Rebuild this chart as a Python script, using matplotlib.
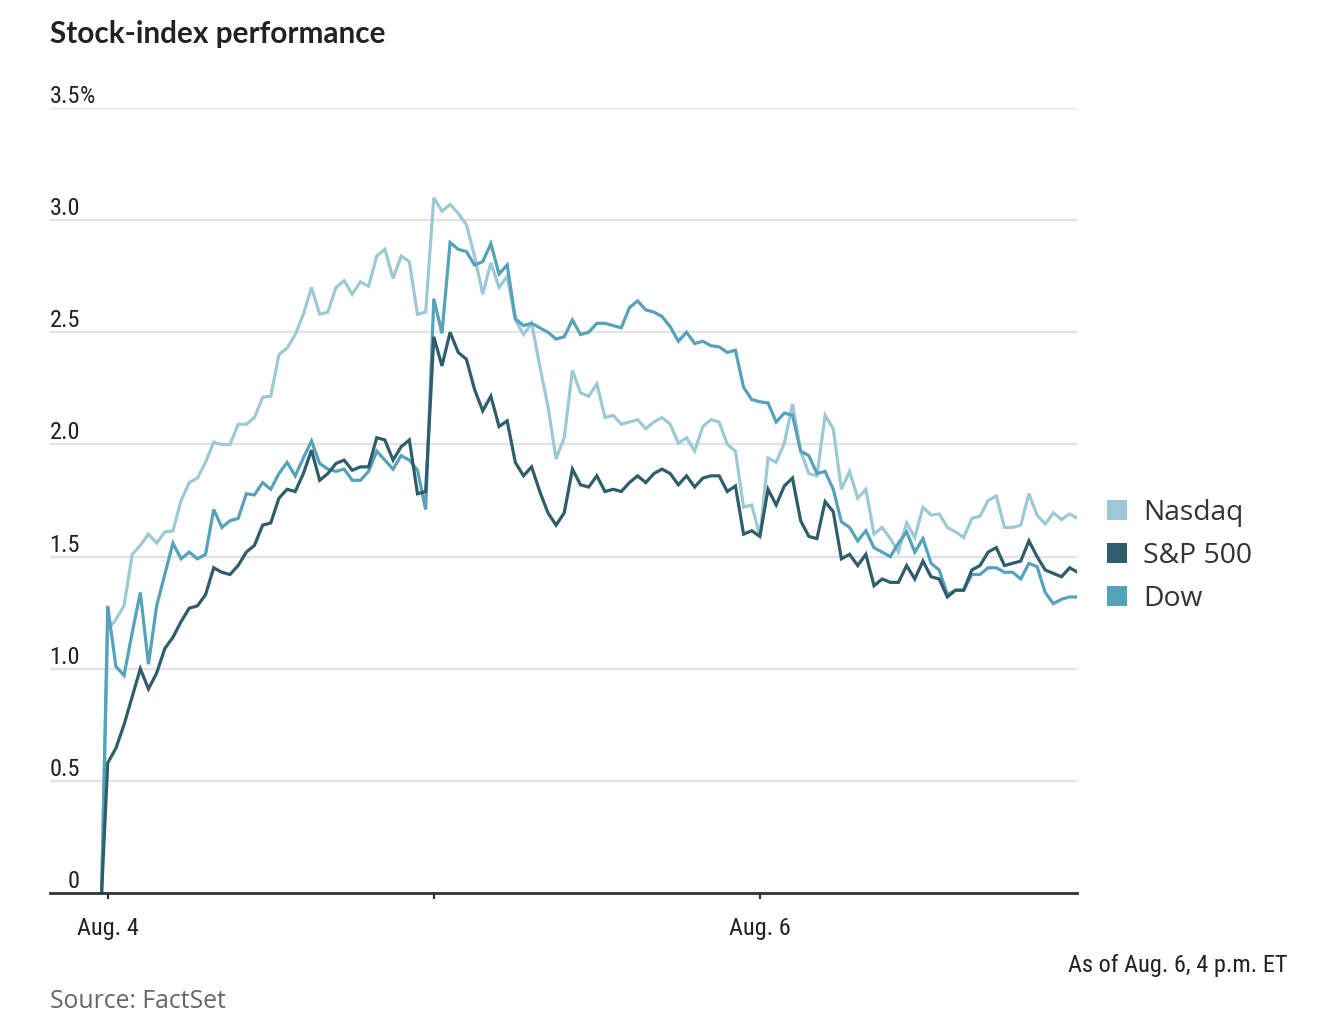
import numpy as np
import matplotlib.pyplot as plt
from matplotlib import font_manager as fm
from matplotlib.patches import Rectangle

# % change from the Aug. 3 close, 10-minute readings (40 per session)
nasdaq = [1.17, 1.22, 1.28, 1.51, 1.55, 1.60, 1.56, 1.61, 1.615, 1.75,
          1.83, 1.85, 1.92, 2.01, 2.00, 2.00, 2.09, 2.09, 2.12, 2.21,
          2.215, 2.40, 2.43, 2.49, 2.58, 2.70, 2.58, 2.59, 2.70, 2.73,
          2.67, 2.725, 2.705, 2.84, 2.87, 2.74, 2.84, 2.815, 2.58, 2.59,
          3.10, 3.04, 3.07, 3.03, 2.98, 2.84, 2.67, 2.81, 2.70, 2.75,
          2.555, 2.49, 2.54, 2.35, 2.17, 1.935, 2.03, 2.33, 2.23, 2.215,
          2.27, 2.12, 2.13, 2.09, 2.10, 2.11, 2.07, 2.10, 2.12, 2.09,
          2.005, 2.03, 1.97, 2.08, 2.11, 2.10, 2.00, 1.97, 1.72, 1.73,
          1.59, 1.94, 1.92, 2.005, 2.18, 1.97, 1.87, 1.86, 2.13, 2.07,
          1.80, 1.88, 1.76, 1.80, 1.60, 1.63, 1.58, 1.52, 1.65, 1.585,
          1.72, 1.685, 1.69, 1.63, 1.61, 1.585, 1.67, 1.68, 1.75, 1.77,
          1.63, 1.63, 1.64, 1.78, 1.685, 1.645, 1.695, 1.665, 1.69, 1.67]

sp500 = [0.58, 0.645, 0.75, 0.875, 1.00, 0.91, 0.98, 1.09, 1.14, 1.21,
         1.27, 1.28, 1.33, 1.45, 1.43, 1.42, 1.46, 1.52, 1.55, 1.64,
         1.65, 1.76, 1.80, 1.79, 1.87, 1.975, 1.84, 1.87, 1.915, 1.93,
         1.885, 1.90, 1.90, 2.03, 2.02, 1.93, 1.99, 2.02, 1.78, 1.79,
         2.48, 2.35, 2.50, 2.41, 2.38, 2.245, 2.15, 2.215, 2.08, 2.105,
         1.92, 1.86, 1.90, 1.79, 1.695, 1.64, 1.695, 1.89, 1.82, 1.81,
         1.86, 1.79, 1.80, 1.79, 1.83, 1.86, 1.83, 1.87, 1.89, 1.87,
         1.82, 1.86, 1.81, 1.85, 1.86, 1.86, 1.79, 1.815, 1.60, 1.615,
         1.59, 1.80, 1.73, 1.815, 1.85, 1.66, 1.59, 1.58, 1.745, 1.70,
         1.49, 1.51, 1.46, 1.51, 1.37, 1.40, 1.385, 1.385, 1.46, 1.40,
         1.48, 1.41, 1.40, 1.32, 1.35, 1.35, 1.44, 1.46, 1.52, 1.54,
         1.46, 1.47, 1.48, 1.57, 1.50, 1.44, 1.425, 1.41, 1.45, 1.43]

dow = [1.28, 1.01, 0.97, 1.16, 1.34, 1.02, 1.28, 1.42, 1.56, 1.49,
       1.52, 1.49, 1.51, 1.71, 1.63, 1.66, 1.67, 1.78, 1.775, 1.83,
       1.80, 1.87, 1.92, 1.86, 1.94, 2.015, 1.915, 1.89, 1.88, 1.89,
       1.84, 1.84, 1.88, 1.97, 1.93, 1.89, 1.95, 1.93, 1.885, 1.71,
       2.65, 2.495, 2.90, 2.87, 2.86, 2.80, 2.815, 2.895, 2.76, 2.80,
       2.56, 2.53, 2.54, 2.52, 2.50, 2.47, 2.48, 2.555, 2.49, 2.50,
       2.54, 2.54, 2.53, 2.52, 2.61, 2.64, 2.60, 2.59, 2.57, 2.525,
       2.46, 2.50, 2.45, 2.46, 2.44, 2.435, 2.41, 2.42, 2.255, 2.20,
       2.19, 2.185, 2.10, 2.14, 2.13, 1.97, 1.95, 1.87, 1.88, 1.80,
       1.655, 1.63, 1.57, 1.615, 1.54, 1.52, 1.50, 1.56, 1.61, 1.52,
       1.58, 1.47, 1.44, 1.33, 1.35, 1.35, 1.42, 1.42, 1.45, 1.45,
       1.43, 1.43, 1.40, 1.47, 1.455, 1.34, 1.29, 1.31, 1.32, 1.32]

series_names = ['Nasdaq', 'S&P 500', 'Dow']
series_colors = ['#9dc9d6', '#2e5e6b', '#55a2bb']
day_ticks = [0, 40, 80]
day_labels = ['Aug. 4', '', 'Aug. 6']
y_ticks = [0, 0.5, 1.0, 1.5, 2.0, 2.5, 3.0, 3.5]
y_labels = ['0', '0.5', '1.0', '1.5', '2.0', '2.5', '3.0', '3.5']


# the original uses a narrow face for axis text; take one if installed
def pick_narrow():
    wanted = [('liberationsansnarrow-regular', 17.8),
              ('notosans-condensedlight.', 17.5),
              ('notosans-condensed.', 17.0),
              ('robotocondensed-regular', 17.5),
              ('dejavusanscondensed.', 14.6)]
    files = [f.fname for f in fm.fontManager.ttflist]
    for w, size in wanted:
        for f in files:
            if w in f.lower().replace(' ', ''):
                return fm.FontProperties(fname=f), size
    return fm.FontProperties(family='Roboto'), 14.5


narrow, nsize = pick_narrow()
body = ['Open Sans', 'DejaVu Sans']

W, H = 1328, 1024
fig = plt.figure(figsize=(W / 100, H / 100), dpi=100)
ax = fig.add_axes([50 / W, 1 - 893 / H, 1027 / W, (893 - 108) / H])

# previous close (0%) sits just before the first reading
x = np.concatenate([[-0.75], np.arange(len(nasdaq))])
data = {'Nasdaq': nasdaq, 'S&P 500': sp500, 'Dow': dow}
for name in ['Nasdaq', 'Dow', 'S&P 500']:
    c = series_colors[series_names.index(name)]
    ax.plot(x, np.concatenate([[0], data[name]]), color=c, lw=2.3,
            solid_joinstyle='miter', zorder=3)

ax.set_xlim(-7.08, 118.9)
ax.set_ylim(0, 3.5)
ax.set_yticks(y_ticks)
ax.yaxis.grid(True, color='#e2e2e2', lw=1.6)
ax.set_axisbelow(True)
ax.tick_params(axis='y', left=False, labelleft=False)
for s in ['top', 'right', 'left']:
    ax.spines[s].set_visible(False)
ax.spines['bottom'].set_color('#333333')
ax.spines['bottom'].set_linewidth(2)
ax.spines['bottom'].set_zorder(4)

ax.set_xticks(day_ticks)
ax.set_xticklabels(day_labels, fontproperties=narrow, fontsize=nsize, color='#222222')
ax.tick_params(axis='x', length=4, width=1.6, color='#333333', pad=13)

# y labels sit on top of the gridlines
ytr = ax.get_yaxis_transform()
lab_x = 30 / 1027
for v, lab in zip(y_ticks, y_labels):
    ax.text(lab_x, v + 5 / 224.3, lab, transform=ytr, ha='right', va='baseline',
            fontproperties=narrow, fontsize=nsize, color='#222222')
ax.text(lab_x, y_ticks[-1] + 5 / 224.3, '%', transform=ytr, ha='left',
        va='baseline', fontproperties=narrow, fontsize=nsize, color='#222222')

fig.text(50 / W, 1 - 43 / H, 'Stock-index performance', family=['Lato', 'DejaVu Sans'],
         fontweight='bold', fontsize=21.4, color='#222222', va='baseline')
fig.text(50 / W, 1 - 1008 / H, 'Source: FactSet', family=body, fontsize=17.8,
         color='#666666', va='baseline')
fig.text(1288 / W, 1 - 972 / H, 'As of Aug. 6, 4 p.m. ET', fontproperties=narrow,
         fontsize=nsize, color='#222222', ha='right', va='baseline')

# legend
for i, (name, c) in enumerate(zip(series_names, series_colors)):
    base = 520 + 43 * i
    fig.add_artist(Rectangle((1107 / W, 1 - base / H), 20 / W, 20 / H,
                             transform=fig.transFigure, color=c, lw=0))
    fig.text(1143 / W, 1 - base / H, name, family=body, fontsize=20.3,
             color='#333333', va='baseline')

fig.savefig('out.png', dpi=100)
